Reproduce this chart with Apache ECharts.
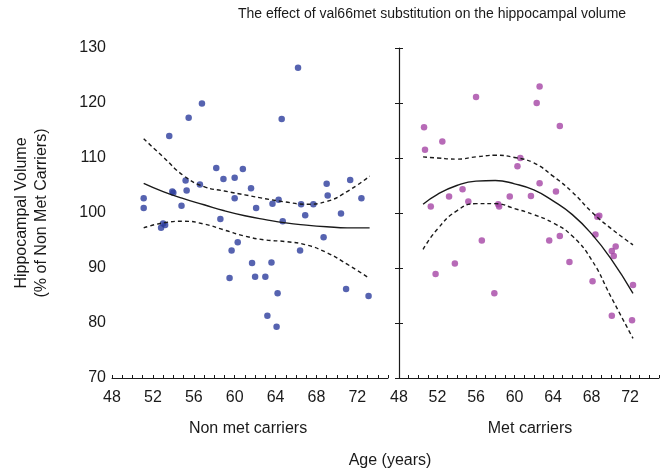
<!DOCTYPE html>
<html>
<head>
<meta charset="utf-8">
<script src="https://cdn.jsdelivr.net/npm/echarts@6/dist/echarts.min.js"></script>
<style>
  html, body {margin: 0; padding: 0; background: #fff;}
  #main {width: 662px; height: 469px;}
</style>
</head>
<body>
<div id="main"></div>
<script>
// non met carriers (left panel)
var nonMetAge = [51.1, 51.1, 52.8, 53.0, 53.2, 53.6, 53.9, 54.0, 54.8, 55.2, 55.3, 55.5, 56.6, 56.8, 58.2, 58.6, 58.9, 59.5, 59.7, 60.0,
    60.0, 60.3, 60.8, 61.6, 61.7, 62.0, 62.1, 63.0, 63.2, 63.6, 63.7, 64.1, 64.2, 64.3, 64.6, 64.7, 66.2, 66.4, 66.5, 66.9,
    67.7, 68.7, 69.0, 69.1, 70.4, 70.9, 71.3, 72.4, 73.1];
var nonMetVol = [102.7, 100.9, 97.3, 98.1, 97.8, 114.0, 103.9, 103.7, 101.3, 105.9, 104.1, 117.3, 105.2, 119.9, 108.2, 98.9, 106.2, 88.2, 93.2, 106.4,
    102.7, 94.7, 108.0, 104.5, 90.9, 88.4, 100.9, 88.4, 81.3, 91.0, 101.7, 79.3, 85.4, 102.4, 117.1, 98.5, 126.4, 93.2, 101.6, 99.6,
    101.6, 95.6, 105.3, 103.2, 99.9, 86.2, 106.0, 102.7, 84.9];

// met carriers (right panel)
var metAge = [50.6, 50.7, 51.3, 51.8, 52.5, 53.2, 53.8, 54.6, 55.2, 56.0, 56.6, 57.9, 58.3, 58.4, 59.5, 60.3, 60.6, 61.7,
    62.3, 62.6, 62.6, 63.6, 64.3, 64.7, 64.7, 65.7, 68.1, 68.4, 68.6, 68.8, 70.1, 70.1, 70.3, 70.5, 72.2, 72.3];
var metVol = [115.6, 111.5, 101.2, 88.9, 113.0, 103.0, 90.8, 104.3, 102.1, 121.1, 95.0, 85.4, 101.6, 101.2, 103.0, 108.5, 110.0, 103.1,
    120.0, 123.0, 105.4, 95.0, 103.9, 115.8, 95.8, 91.1, 87.6, 96.1, 99.3, 99.5, 93.1, 81.3, 92.2, 93.9, 80.5, 86.9];

// fitted curve and confidence band
var nonMetFitAge = [51.1, 53, 55, 57, 59, 61, 63, 65, 67, 69, 71, 73.2];
var nonMetFit = [105.4, 103.9, 102.6, 101.5, 100.4, 99.5, 98.8, 98.2, 97.8, 97.5, 97.3, 97.3];
var nonMetUpper = [113.5, 110.2, 106.8, 104.8, 104.0, 103.3, 102.6, 102.0, 101.6, 102.1, 103.9, 106.7];
var nonMetLower = [97.3, 98.2, 98.5, 98.0, 96.9, 95.8, 95.1, 94.8, 94.2, 92.8, 90.7, 88.1];

var metFitAge = [50.5, 52, 54, 56, 58, 60, 62, 64, 66, 68, 70, 72.3];
var metFit = [101.6, 103.4, 105.0, 105.8, 105.9, 105.3, 104.2, 102.2, 99.7, 96.2, 91.7, 85.4];
var metUpper = [110.2, 110.0, 109.8, 110.2, 110.5, 110.1, 109.1, 106.7, 103.8, 100.2, 97.2, 94.2];
var metLower = [93.4, 97.1, 100.4, 101.7, 101.7, 100.8, 99.7, 98.2, 95.8, 91.5, 84.8, 77.2];

var ageMin = 48, ageMax = 75, ageStep = 1;
var volMin = 70, volMax = 130, volStep = 10;

var font = 'Liberation Sans, Arial, sans-serif';
var ink = '#1a1a1a';

function pairs(xs, ys) {
    var out = [];
    for (var i = 0; i < xs.length; i++) {
        out.push([xs[i], ys[i]]);
    }
    return out;
}

function xAxisFor(grid) {
    return {
        type: 'value', gridIndex: grid,
        min: ageMin, max: ageMax, interval: ageStep,
        axisLine: {show: true, onZero: false, lineStyle: {color: ink, width: 1}},
        axisTick: {show: true, inside: true, length: 3, lineStyle: {color: ink}},
        axisLabel: {
            color: ink, fontSize: 16, fontFamily: font, margin: 12,
            formatter: function (v) { return v % 4 === 0 ? String(v) : ''; }
        },
        splitLine: {show: false}
    };
}

function lineSeries(grid, xs, ys, dashed) {
    return {
        type: 'line', xAxisIndex: grid, yAxisIndex: grid === 0 ? 0 : 1,
        data: pairs(xs, ys), smooth: true, symbol: 'none', silent: true,
        lineStyle: {color: ink, width: 1.4, type: dashed ? [4, 3] : 'solid'}
    };
}

var chart = echarts.init(document.getElementById('main'));
chart.setOption({
    animation: false,
    backgroundColor: '#fff',
    grid: [
        {left: 112, top: 48, width: 276, height: 330},
        {left: 399, top: 48, width: 278, height: 330}
    ],
    xAxis: [xAxisFor(0), xAxisFor(1)],
    yAxis: [
        {
            type: 'value', gridIndex: 0, min: volMin, max: volMax, interval: volStep,
            axisLine: {show: false}, axisTick: {show: false},
            axisLabel: {color: ink, fontSize: 16, fontFamily: font, margin: 6},
            splitLine: {show: false}
        },
        {
            type: 'value', gridIndex: 1, position: 'left', min: volMin, max: volMax, interval: volStep,
            axisLine: {show: true, lineStyle: {color: ink, width: 1.2}},
            axisTick: {show: true, length: 4, lineStyle: {color: ink}},
            axisLabel: {show: false}, splitLine: {show: false}
        },
        {
            //内侧刻度 ticks cross the axis
            type: 'value', gridIndex: 1, position: 'left', min: volMin, max: volMax, interval: volStep,
            axisLine: {show: false},
            axisTick: {show: true, inside: true, length: 4, lineStyle: {color: ink}},
            axisLabel: {show: false}, splitLine: {show: false}
        }
    ],
    series: [
        {
            type: 'scatter', xAxisIndex: 0, yAxisIndex: 0, data: pairs(nonMetAge, nonMetVol),
            symbolSize: 6.5, itemStyle: {color: '#2c3c9c'}
        },
        {
            type: 'scatter', xAxisIndex: 1, yAxisIndex: 1, data: pairs(metAge, metVol),
            symbolSize: 6.5, itemStyle: {color: '#a545a5'}
        },
        lineSeries(0, nonMetFitAge, nonMetFit, false),
        lineSeries(0, nonMetFitAge, nonMetUpper, true),
        lineSeries(0, nonMetFitAge, nonMetLower, true),
        lineSeries(1, metFitAge, metFit, false),
        lineSeries(1, metFitAge, metUpper, true),
        lineSeries(1, metFitAge, metLower, true)
    ],
    graphic: [
        {type: 'text', left: 238, top: 7, style: {text: 'The effect of val66met substitution on the hippocampal volume', fontSize: 14, fontFamily: font, fill: ink}},
        {type: 'text', x: 248, y: 429, style: {text: 'Non met carriers', fontSize: 16, fontFamily: font, fill: ink, textAlign: 'center', textVerticalAlign: 'middle'}},
        {type: 'text', x: 530, y: 429, style: {text: 'Met carriers', fontSize: 16, fontFamily: font, fill: ink, textAlign: 'center', textVerticalAlign: 'middle'}},
        {type: 'text', x: 390, y: 461, style: {text: 'Age (years)', fontSize: 16, fontFamily: font, fill: ink, textAlign: 'center', textVerticalAlign: 'middle'}},
        {type: 'text', x: 22, y: 213, rotation: Math.PI / 2, style: {text: 'Hippocampal Volume', fontSize: 16, fontFamily: font, fill: ink, textAlign: 'center', textVerticalAlign: 'middle'}},
        {type: 'text', x: 42, y: 213, rotation: Math.PI / 2, style: {text: '(% of Non Met Carriers)', fontSize: 16, fontFamily: font, fill: ink, textAlign: 'center', textVerticalAlign: 'middle'}}
    ]
});
</script>
</body>
</html>
